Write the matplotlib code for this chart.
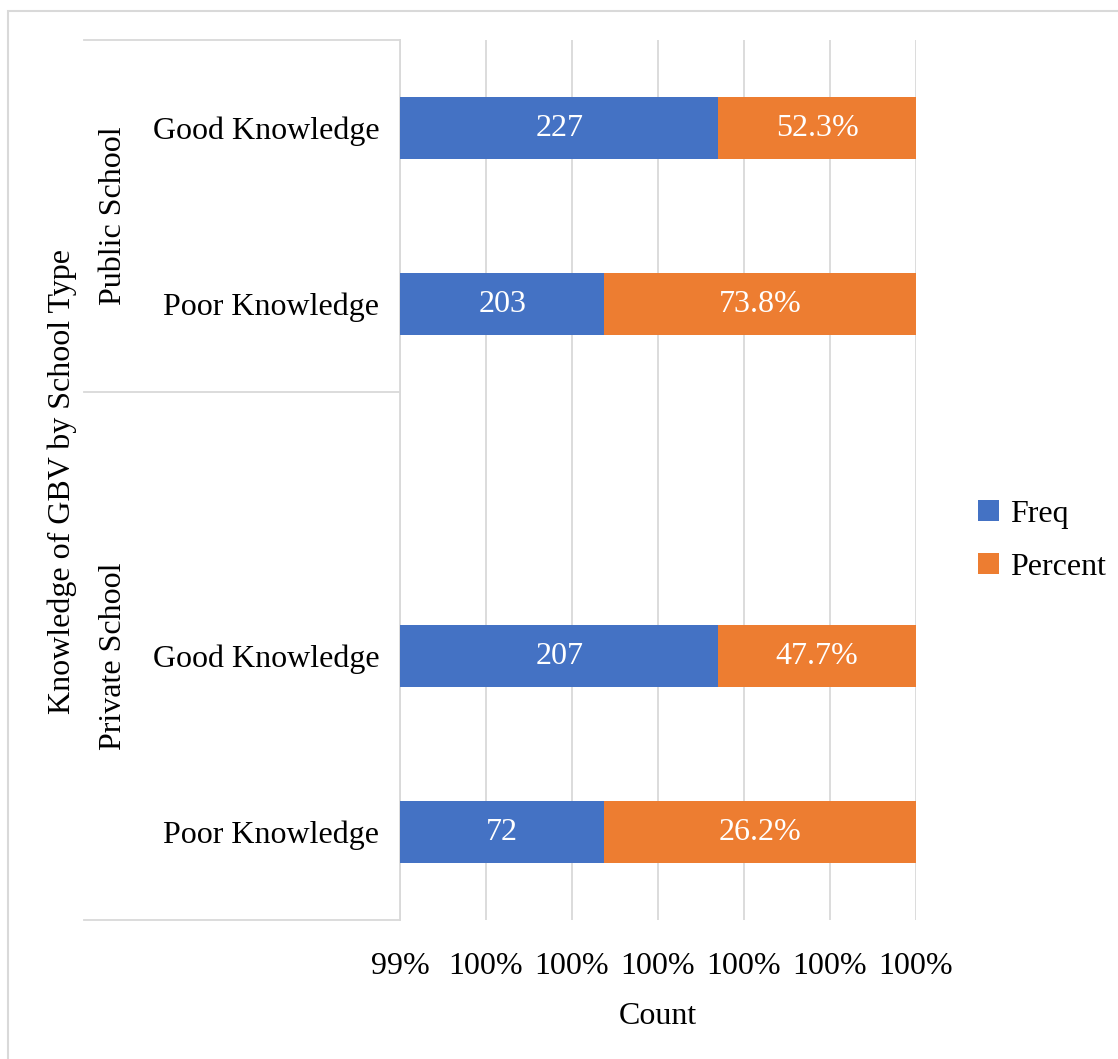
import matplotlib
matplotlib.use("Agg")
import matplotlib.pyplot as plt
import numpy as np
from matplotlib.patches import Rectangle
from matplotlib.ticker import FuncFormatter

# data
groups = ["Public School", "Private School"]
knowledge = ["Good Knowledge", "Poor Knowledge", "Good Knowledge", "Poor Knowledge"]
freq = [227, 203, 207, 72]
percent = [52.3, 73.8, 47.7, 26.2]
ypos = [0, 1, 3, 4]   # slot 2 is the empty gap between the two groups

blue = "#4472C4"
orange = "#ED7D31"
grid_c = "#D9D9D9"

plt.rcParams['font.family'] = ['Liberation Serif', 'DejaVu Serif']
fs = 23

W, H = 1118, 1059
fig = plt.figure(figsize=(W / 100, H / 100), dpi=100)
ax = fig.add_axes([400 / W, 1 - 920 / H, 516 / W, 880 / H])

freq = np.array(freq, dtype=float)
pct = np.array(percent) / 100.0
total = freq + pct
share_f = freq / total
share_p = pct / total

ax.barh(ypos, share_f, height=0.35, color=blue, label="Freq", zorder=3)
ax.barh(ypos, share_p, left=share_f, height=0.35, color=orange, label="Percent", zorder=3)

xmin, xmax = 0.994, 1.0
ax.set_xlim(xmin, xmax)
ax.set_ylim(4.5, -0.5)

for y, sf, f, p in zip(ypos, share_f, freq, percent):
    ax.text((xmin + sf) / 2, y, "%d" % f, ha="center", va="center", color="white", fontsize=fs, zorder=4)
    ax.text((sf + xmax) / 2, y, "%.1f%%" % p, ha="center", va="center", color="white", fontsize=fs, zorder=4)

ax.set_xticks(np.linspace(xmin, xmax, 7))
ax.xaxis.set_major_formatter(FuncFormatter(lambda v, pos: "%d%%" % int(np.floor(v * 100 + 0.5 + 1e-9))))
ax.tick_params(axis="x", length=0, labelsize=fs, pad=23)
ax.set_yticks(ypos)
ax.set_yticklabels(knowledge)
ax.tick_params(axis="y", length=0, labelsize=fs, pad=15)

ax.grid(axis="x", color=grid_c, linewidth=1.3, zorder=0)
for s in ["top", "right", "bottom"]:
    ax.spines[s].set_visible(False)
ax.spines["left"].set_color(grid_c)
ax.spines["left"].set_linewidth(1.3)

ax.set_xlabel("Count", fontsize=fs, labelpad=15)

# hierarchical category lines on the left
tr = ax.get_yaxis_transform()
x0 = (84 - 400) / 516
for yb in [-0.5, 1.5, 4.5]:
    ax.plot([x0, 0], [yb, yb], color=grid_c, linewidth=1.3, transform=tr, clip_on=False)

# group labels
ax.text(-0.555, 0.5, groups[0], rotation=90, ha="center", va="center", fontsize=fs, transform=tr)
ax.text(-0.555, 3.0, groups[1], rotation=90, ha="center", va="center", fontsize=fs, transform=tr)

fig.text(62 / W, 1 - 482 / H, "Knowledge of GBV by School Type", rotation=90,
         ha="center", va="center", fontsize=fs)

ax.legend(loc="center left", bbox_to_anchor=(962 / W, 1 - 541 / H), bbox_transform=fig.transFigure,
          frameon=False, fontsize=fs, handlelength=0.65, handleheight=0.65, handletextpad=0.35,
          labelspacing=0.75, borderpad=0)

# outer chart border
fig.patches.append(Rectangle((8 / W, -0.1), 1.2, 1 - 11 / H + 0.1, transform=fig.transFigure,
                             fill=False, edgecolor=grid_c, linewidth=1.5))

fig.savefig("out.png", dpi=100)
